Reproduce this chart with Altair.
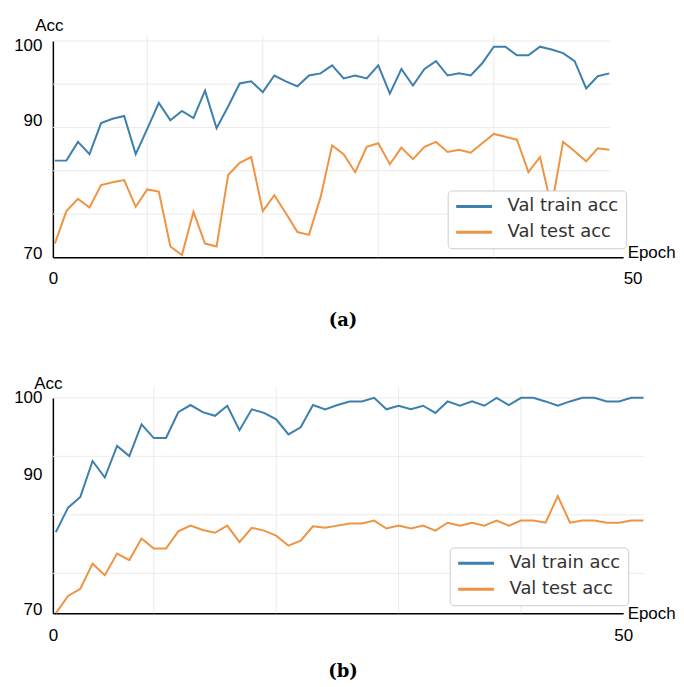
import json
import altair as alt
import pandas as pd

# ---------------- data ----------------
epochs = list(range(49))
series = ["Val train acc", "Val test acc"]
colors = ["#3d7fad", "#ee9442"]

train_a = [83.4, 83.4, 86.0, 84.3, 88.6, 89.2, 89.6, 84.3, 87.8, 91.4,
           89.0, 90.3, 89.3, 93.1, 87.9, 90.9, 94.1, 94.4, 92.9, 95.2,
           94.4, 93.7, 95.2, 95.5, 96.6, 94.8, 95.2, 94.8, 96.6, 92.7,
           96.1, 93.8, 96.1, 97.2, 95.2, 95.5, 95.2, 96.9, 99.2, 99.2,
           98.0, 98.0, 99.2, 98.8, 98.3, 97.2, 93.4, 95.1, 95.5]
test_a = [71.9, 76.4, 78.1, 76.9, 80.0, 80.4, 80.7, 77.0, 79.4, 79.1,
          71.5, 70.3, 76.3, 71.9, 71.5, 81.4, 83.1, 83.9, 76.4, 78.6,
          76.1, 73.5, 73.1, 78.3, 85.5, 84.3, 81.8, 85.3, 85.8, 82.9,
          85.2, 83.6, 85.3, 86.0, 84.6, 84.9, 84.5, 85.8, 87.1, 86.7,
          86.3, 81.8, 83.9, 77.0, 86.0, 84.7, 83.3, 85.1, 84.9]
train_b = [81.3, 84.7, 86.2, 91.2, 88.9, 93.3, 91.9, 96.3, 94.4, 94.4,
           98.0, 99.0, 98.0, 97.5, 98.9, 95.5, 98.4, 97.9, 97.0, 94.9,
           95.9, 99.0, 98.4, 99.0, 99.5, 99.5, 100.0, 98.4, 98.9, 98.4,
           98.9, 97.9, 99.5, 98.9, 99.5, 98.9, 100.0, 99.0, 100.0, 100.0,
           99.5, 98.9, 99.5, 100.0, 100.0, 99.5, 99.5, 100.0, 100.0]
test_b = [70.0, 72.4, 73.4, 76.9, 75.3, 78.3, 77.4, 80.4, 79.0, 79.0,
          81.4, 82.2, 81.6, 81.2, 82.2, 79.9, 81.9, 81.5, 80.8, 79.4,
          80.1, 82.1, 81.9, 82.2, 82.5, 82.5, 82.9, 81.8, 82.2, 81.8,
          82.2, 81.5, 82.6, 82.2, 82.6, 82.2, 82.9, 82.2, 82.9, 82.9,
          82.6, 86.3, 82.6, 82.9, 82.9, 82.6, 82.6, 82.9, 82.9]

ytick_values = [70, 90, 100]
xtick_text = ["0", "50"]
vgrid_values = [8, 18, 28, 38]
hgrid_a = [100, 94, 88, 82, 76]
hgrid_b = [100, 91.85, 83.7, 75.55]

FONT = "Liberation Sans"


def panel(train, test, caption, xdom, hgrid, grid_right, grid_top,
          legend_xy, epoch_title_xy, acc_title_xy, height, ylab_off,
          end_align, cap_offset, xlab_pad):
    df = pd.DataFrame({
        "epoch": epochs * 2,
        "acc": train + test,
        "series": [series[0]] * len(train) + [series[1]] * len(test),
    })
    xscale = alt.Scale(domain=xdom, nice=False, zero=False)
    yscale = alt.Scale(domain=[70, 100], nice=False, zero=False)

    # the hand-drawn x axis carries its labels at the two ends of the axis line
    label_expr = f"{json.dumps(xtick_text)}[round(datum.index)]"
    xaxis = alt.Axis(values=list(xdom), labelExpr=label_expr,
                     labelFlush=False, labelOverlap=False,
                     labelPadding=xlab_pad, labelBaseline="middle",
                     labelAlign={"condition": {"test": "datum.index >= 1", "value": end_align},
                                 "value": "center"},
                     title="Epoch", titleAngle=0,
                     titleX=epoch_title_xy[0], titleY=epoch_title_xy[1],
                     titleAlign="left", titleBaseline="middle")
    yaxis = alt.Axis(values=ytick_values, labelPadding=11,
                     labelBaseline="middle",
                     labelOffset={"condition": [
                         {"test": "datum.value == 100", "value": ylab_off[0]},
                         {"test": "datum.value == 90", "value": ylab_off[1]}],
                         "value": ylab_off[2]},
                     title="Acc", titleAngle=0,
                     titleX=acc_title_xy[0], titleY=acc_title_xy[1],
                     titleAlign="center", titleBaseline="middle")

    lines = alt.Chart(df).mark_line(strokeWidth=2).encode(
        x=alt.X("epoch:Q", scale=xscale, axis=xaxis),
        y=alt.Y("acc:Q", scale=yscale, axis=yaxis),
        color=alt.Color("series:N",
                        scale=alt.Scale(domain=series, range=colors),
                        legend=alt.Legend(
                            orient="none", legendX=legend_xy[0], legendY=legend_xy[1],
                            title=None, symbolType="stroke", symbolSize=1296,
                            symbolStrokeWidth=3, clipHeight=18,
                            labelFont="DejaVu Sans",
                            labelFontSize=18, labelColor="#333333",
                            labelOffset=14, padding=7, rowPadding=8,
                            cornerRadius=4, strokeColor="#cccccc",
                            fillColor="#ffffff", labelLimit=400)),
    )

    hg = alt.Chart(pd.DataFrame({"v": hgrid})).transform_calculate(
        x0=str(xdom[0]), x1=str(grid_right)
    ).mark_rule(color="#ebebeb", strokeWidth=1).encode(
        y=alt.Y("v:Q", scale=yscale, axis=yaxis),
        x=alt.X("x0:Q", scale=xscale, axis=xaxis),
        x2="x1:Q",
    )
    vg = alt.Chart(pd.DataFrame({"v": vgrid_values})).transform_calculate(
        y0="70", y1=str(grid_top)
    ).mark_rule(color="#ebebeb", strokeWidth=1).encode(
        x=alt.X("v:Q", scale=xscale, axis=xaxis),
        y=alt.Y("y0:Q", scale=yscale, axis=yaxis),
        y2="y1:Q",
    )

    return alt.layer(hg, vg, lines).properties(
        width=572, height=height,
        title=alt.TitleParams(caption, orient="bottom", font="DejaVu Serif",
                              fontSize=18, fontWeight="bold", color="black",
                              anchor="middle", dx=5, offset=cap_offset),
    )


pa = panel(train_a, test_a, "(a)", [-0.173, 49.2], hgrid_a, 48.1, 100.8,
           (396, 150), (576, -4.5), (-4, -15.3), 217, (5, 8, -4), "left", 26, 21)
pb = panel(train_b, test_b, "(b)", [-0.244, 46.34], hgrid_b, 48.05, 101.5,
           (398, 150), (576, 0.5), (-5, -14.2), 216, (0, 5, -4), "center", 20, 22)

chart = alt.vconcat(pa, pb, spacing=44).resolve_scale(
    color="independent", x="independent", y="independent"
).resolve_legend(color="independent").properties(
    padding={"left": 5, "top": 7, "right": 0, "bottom": 0},
    background="white",
).configure_view(stroke=None).configure_axis(
    domainColor="black", domainWidth=1.5, ticks=False, grid=False,
    labelFont=FONT, labelFontSize=17, labelColor="black",
    titleFont=FONT, titleFontSize=17, titleFontWeight="normal", titleColor="black",
)

chart.save("out.html", embed_options={"renderer": "svg", "actions": False})
